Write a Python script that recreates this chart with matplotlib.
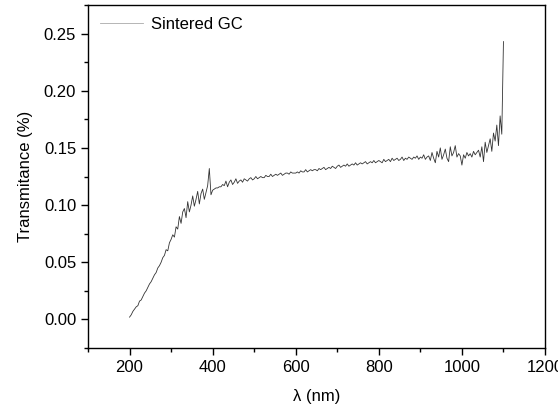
import numpy as np
import matplotlib
matplotlib.use("Agg")
import matplotlib.pyplot as plt
from matplotlib.ticker import MultipleLocator

# wavelength grid (nm), 4 nm step, 200..1100
wavelength = np.arange(200, 1101, 4)

# transmittance, 10 values per row
transmittance = [
    0.002, 0.004, 0.007, 0.009, 0.011, 0.012, 0.016, 0.017, 0.020, 0.023,  # 200
    0.025, 0.028, 0.031, 0.033, 0.036, 0.039, 0.041, 0.045, 0.047, 0.050,  # 240
    0.054, 0.056, 0.061, 0.060, 0.067, 0.070, 0.074, 0.072, 0.081, 0.079,  # 280
    0.090, 0.084, 0.094, 0.097, 0.089, 0.103, 0.094, 0.100, 0.108, 0.099,  # 320
    0.105, 0.112, 0.101, 0.110, 0.114, 0.105, 0.111, 0.117, 0.132, 0.109,  # 360
    0.113, 0.114, 0.115, 0.115, 0.116, 0.116, 0.118, 0.117, 0.121, 0.116,  # 400
    0.120, 0.122, 0.118, 0.120, 0.123, 0.119, 0.121, 0.122, 0.120, 0.123,  # 440
    0.122, 0.121, 0.123, 0.124, 0.122, 0.123, 0.125, 0.123, 0.124, 0.125,  # 480
    0.124, 0.124, 0.126, 0.125, 0.125, 0.127, 0.125, 0.126, 0.127, 0.126,  # 520
    0.127, 0.128, 0.126, 0.127, 0.128, 0.128, 0.127, 0.129, 0.128, 0.128,  # 560
    0.128, 0.129, 0.128, 0.130, 0.129, 0.129, 0.131, 0.129, 0.130, 0.131,  # 600
    0.130, 0.131, 0.131, 0.130, 0.132, 0.131, 0.132, 0.133, 0.131, 0.132,  # 640
    0.133, 0.132, 0.134, 0.133, 0.132, 0.134, 0.135, 0.133, 0.134, 0.135,  # 680
    0.134, 0.136, 0.134, 0.135, 0.136, 0.135, 0.137, 0.135, 0.136, 0.137,  # 720
    0.136, 0.137, 0.138, 0.136, 0.137, 0.138, 0.137, 0.139, 0.137, 0.138,  # 760
    0.139, 0.138, 0.137, 0.140, 0.138, 0.139, 0.140, 0.138, 0.141, 0.139,  # 800
    0.140, 0.141, 0.139, 0.140, 0.142, 0.139, 0.141, 0.140, 0.142, 0.141,  # 840
    0.140, 0.142, 0.141, 0.143, 0.140, 0.142, 0.141, 0.144, 0.140, 0.142,  # 880
    0.143, 0.139, 0.146, 0.141, 0.137, 0.147, 0.142, 0.150, 0.140, 0.144,  # 920
    0.149, 0.141, 0.138, 0.151, 0.143, 0.146, 0.152, 0.142, 0.145, 0.143,  # 960
    0.135, 0.144, 0.141, 0.146, 0.143, 0.145, 0.142, 0.147, 0.144, 0.146,  # 1000
    0.148, 0.142, 0.151, 0.138, 0.155, 0.146, 0.152, 0.158, 0.147, 0.163,  # 1040
    0.156, 0.170, 0.152, 0.178, 0.162, 0.243,                              # 1080
]

plt.rcParams['font.family'] = ['Liberation Sans', 'DejaVu Sans']

fig = plt.figure(figsize=(5.58, 4.09), dpi=100)
ax = fig.add_axes([88/558, 1-348/409, (545-88)/558, (348-5)/409])

ax.plot(wavelength, transmittance, color='#333333', lw=0.6, label='Sintered GC')

ax.set_xlim(100, 1200)
ax.set_ylim(-0.025, 0.275)
ax.xaxis.set_major_locator(MultipleLocator(200))
ax.xaxis.set_minor_locator(MultipleLocator(100))
ax.yaxis.set_major_locator(MultipleLocator(0.05))
ax.yaxis.set_minor_locator(MultipleLocator(0.025))
ax.yaxis.set_major_formatter(plt.FormatStrFormatter('%.2f'))
ax.tick_params(which='major', direction='out', length=5, width=1, labelsize=12)
ax.tick_params(which='minor', direction='out', length=3, width=1)
for s in ax.spines.values():
    s.set_linewidth(1)

ax.set_xlabel('λ (nm)', fontsize=12, labelpad=10)
ax.set_ylabel('Transmitance (%)', fontsize=12, labelpad=8)

leg = ax.legend(loc='upper left', frameon=False, fontsize=12, handlelength=2.6,
                handletextpad=0.5, borderaxespad=0.3)
for h in leg.get_lines():
    h.set_color('#aaaaaa')

fig.savefig('out.png')
